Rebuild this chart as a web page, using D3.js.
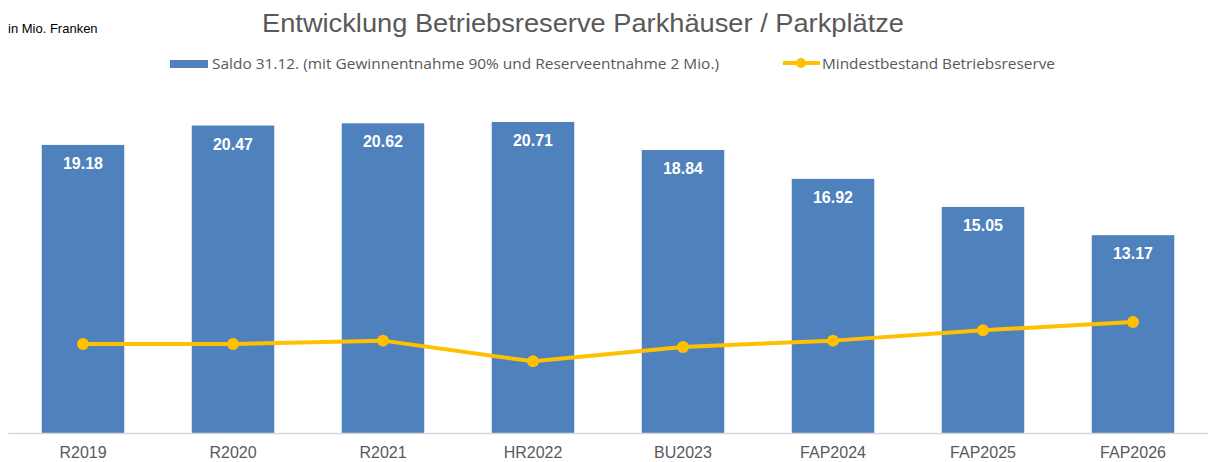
<!DOCTYPE html>
<html>
<head>
<meta charset="utf-8">
<script src="https://cdn.jsdelivr.net/npm/d3@7"></script>
<style>
  body { margin: 0; background: #fff; }
  svg { display: block; font-family: Arial, "Liberation Sans", sans-serif; }
</style>
</head>
<body>
<svg id="chart" width="1210" height="462"></svg>
<script>
/**
 * Data.
 */
const categories = ['R2019', 'R2020', 'R2021', 'HR2022', 'BU2023', 'FAP2024', 'FAP2025', 'FAP2026'];
const saldo = [19.18, 20.47, 20.62, 20.71, 18.84, 16.92, 15.05, 13.17];
const mindestbestand = [5.93, 5.93, 6.15, 4.77, 5.73, 6.15, 6.84, 7.39];
const seriesNames = ['Saldo 31.12. (mit Gewinnentnahme 90% und Reserveentnahme 2 Mio.)', 'Mindestbestand Betriebsreserve'];

/**
 * Visual configs.
 */
const barColor = '#4F81BD',
    lineColor = '#FFC000',
    textGray = '#595959';
const plot = { left: 8, right: 1208, bottom: 433 };

const svg = d3.select('#chart');

const xScale = d3.scaleBand()
    .domain(categories)
    .range([plot.left, plot.right])
    .paddingInner(0.45)
    .paddingOuter(0.225);
const yScale = d3.scaleLinear()
    .domain([0, 25])
    .range([plot.bottom, plot.bottom - 25 * 15.02]);

// Title + unit note
svg.append('text')
    .attr('x', 583).attr('y', 32)
    .attr('text-anchor', 'middle')
    .attr('font-size', 26)
    .attr('fill', textGray)
    .attr('textLength', 642)
    .attr('lengthAdjust', 'spacingAndGlyphs')
    .text('Entwicklung Betriebsreserve Parkhäuser / Parkplätze');
svg.append('text')
    .attr('x', 8).attr('y', 33)
    .attr('font-size', 13)
    .attr('fill', '#000')
    .text('in Mio. Franken');

// Legend
const legend = svg.append('g').attr('class', 'legend')
    .attr('font-size', 14.5)
    .attr('font-family', '"Open Sans", "Noto Sans", sans-serif')
    .attr('fill', textGray);
legend.append('rect')
    .attr('x', 170).attr('y', 60).attr('width', 38).attr('height', 8)
    .attr('fill', barColor);
legend.append('text')
    .attr('x', 212).attr('y', 69)
    .attr('textLength', 507)
    .attr('lengthAdjust', 'spacingAndGlyphs')
    .text(seriesNames[0]);
legend.append('line')
    .attr('x1', 783).attr('x2', 820).attr('y1', 63).attr('y2', 63)
    .attr('stroke', lineColor).attr('stroke-width', 4);
legend.append('circle')
    .attr('cx', 801).attr('cy', 63).attr('r', 5)
    .attr('fill', lineColor);
legend.append('text')
    .attr('x', 822).attr('y', 69)
    .attr('textLength', 233)
    .attr('lengthAdjust', 'spacingAndGlyphs')
    .text(seriesNames[1]);

// Bars
svg.append('g').attr('class', 'bars')
    .selectAll('rect')
    .data(saldo)
    .join('rect')
        .attr('x', (d, i) => xScale(categories[i]))
        .attr('y', d => yScale(d))
        .attr('width', xScale.bandwidth())
        .attr('height', d => yScale(0) - yScale(d))
        .attr('fill', barColor);

svg.append('g').attr('class', 'bar-labels')
    .selectAll('text')
    .data(saldo)
    .join('text')
        .attr('x', (d, i) => xScale(categories[i]) + xScale.bandwidth() / 2)
        .attr('y', d => yScale(d) + 24)
        .attr('text-anchor', 'middle')
        .attr('font-size', 16)
        .attr('font-weight', 'bold')
        .attr('fill', '#fff')
        .text(d => d.toFixed(2));

// X axis
const xAxis = d3.axisBottom(xScale).tickSize(0).tickPadding(14);
const xAxisG = svg.append('g')
    .attr('transform', `translate(0,${plot.bottom})`)
    .call(xAxis);
xAxisG.select('.domain').attr('stroke', '#D9D9D9').attr('stroke-width', 1.5);
xAxisG.selectAll('text')
    .attr('font-size', 16)
    .attr('font-family', 'Arial, "Liberation Sans", sans-serif')
    .attr('fill', textGray);

// Line
const cx = (d, i) => xScale(categories[i]) + xScale.bandwidth() / 2;
const line = d3.line().x(cx).y(d => yScale(d));
svg.append('path')
    .datum(mindestbestand)
    .attr('d', line)
    .attr('fill', 'none')
    .attr('stroke', lineColor)
    .attr('stroke-width', 4)
    .attr('stroke-linejoin', 'round');
svg.append('g').attr('class', 'points')
    .selectAll('circle')
    .data(mindestbestand)
    .join('circle')
        .attr('cx', cx)
        .attr('cy', d => yScale(d))
        .attr('r', 6)
        .attr('fill', lineColor);
</script>
</body>
</html>
